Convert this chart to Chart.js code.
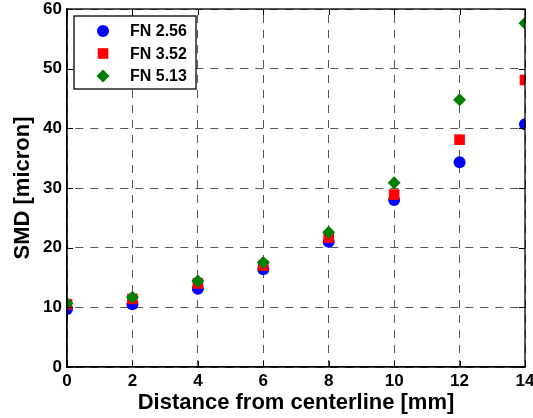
<!DOCTYPE html>
<html>
<head>
<meta charset="utf-8">
<script src="https://cdn.jsdelivr.net/npm/chart.js@4/dist/chart.umd.min.js"></script>
<style>
  html, body { margin: 0; padding: 0; background: #ffffff; }
  #wrap { width: 533px; height: 418px; }
</style>
</head>
<body>
<div id="wrap"><canvas id="c" width="533" height="418"></canvas></div>
<script>
// ---- data ----
const distances = [0, 2, 4, 6, 8, 10, 12, 14];
const fn256 = [9.7, 10.5, 13.1, 16.4, 21.0, 28.0, 34.3, 40.7];
const fn352 = [10.5, 11.4, 14.0, 17.0, 21.7, 28.9, 38.1, 48.1];
const fn513 = [10.7, 11.7, 14.4, 17.5, 22.6, 30.9, 44.8, 57.6];
const seriesNames = ['FN 2.56', 'FN 3.52', 'FN 5.13'];
const xTicks = [0, 2, 4, 6, 8, 10, 12, 14];
const yTicks = [0, 10, 20, 30, 40, 50, 60];
const xTitle = 'Distance from centerline [mm]';
const yTitle = 'SMD [micron]';

const FONT = "Arial, 'Liberation Sans', Helvetica, sans-serif";

function pts(xs, ys) { return xs.map((x, i) => ({ x: x, y: ys[i] })); }

const frame = {
  id: 'frame',
  afterDatasetsDraw(chart) {
    const { ctx, chartArea: a, scales } = chart;
    ctx.save();
    ctx.strokeStyle = '#000';
    ctx.lineWidth = 1;
    ctx.setLineDash([]);
    const tl = 6;
    ctx.beginPath();
    xTicks.forEach(v => {
      const px = Math.round(scales.x.getPixelForValue(v)) + 0.5;
      ctx.moveTo(px, a.bottom); ctx.lineTo(px, a.bottom - tl);
      ctx.moveTo(px, a.top); ctx.lineTo(px, a.top + tl);
    });
    yTicks.forEach(v => {
      const py = Math.round(scales.y.getPixelForValue(v)) + 0.5;
      ctx.moveTo(a.left, py); ctx.lineTo(a.left + tl, py);
      ctx.moveTo(a.right, py); ctx.lineTo(a.right - tl, py);
    });
    ctx.stroke();
    ctx.lineWidth = 1.3;
    ctx.strokeRect(a.left, a.top, a.right - a.left, a.bottom - a.top);
    ctx.restore();
  },
  afterDraw(chart) {
    const { ctx, chartArea: a } = chart;
    ctx.save();
    const bx = a.left + 7, by = a.top + 7, bw = 122, bh = 73;
    ctx.fillStyle = '#fff';
    ctx.fillRect(bx, by, bw, bh);
    ctx.strokeStyle = '#000';
    ctx.lineWidth = 1.3;
    ctx.strokeRect(bx, by, bw, bh);
    const rows = [22, 44.5, 67];
    chart.data.datasets.forEach((ds, i) => {
      const y = a.top + rows[i];
      const mx = a.left + 36;
      ctx.fillStyle = ds.backgroundColor;
      ctx.strokeStyle = ds.borderColor;
      Chart.helpers.drawPoint(ctx, { pointStyle: ds.pointStyle, radius: ds.pointRadius, borderWidth: 0, rotation: 0 }, mx, y);
      ctx.fillStyle = '#000';
      ctx.font = 'bold 16px ' + FONT;
      ctx.textBaseline = 'middle';
      ctx.textAlign = 'left';
      ctx.fillText(seriesNames[i], a.left + 63, y + 1);
    });
    ctx.restore();
  }
};

const colors = ['#0000ff', '#ff0000', '#007f00'];
const styles = ['circle', 'rect', 'rectRot'];
const radii = [6, 7.5, 6.5];
const values = [fn256, fn352, fn513];

new Chart(document.getElementById('c'), {
  type: 'scatter',
  data: {
    datasets: values.map((v, i) => ({
      label: seriesNames[i],
      data: pts(distances, v),
      pointStyle: styles[i],
      pointRadius: radii[i],
      pointHoverRadius: radii[i],
      backgroundColor: colors[i],
      borderColor: colors[i],
      borderWidth: 0,
      order: 3 - i
    }))
  },
  options: {
    responsive: false,
    animation: false,
    events: [],
    layout: { padding: { top: 9, right: 8, left: 0, bottom: 0 } },
    plugins: { legend: { display: false }, tooltip: { enabled: false } },
    scales: {
      x: {
        type: 'linear',
        min: 0, max: 14,
        afterFit(s) { s.height = 51; s.paddingLeft = 0; s.paddingRight = 0; },
        afterBuildTicks(s) { s.ticks = xTicks.map(v => ({ value: v })); },
        ticks: { color: '#000', padding: 4, font: { family: FONT, size: 17, weight: 'bold' }, maxRotation: 0 },
        grid: { color: '#555', lineWidth: 1, drawTicks: false },
        border: { display: true, color: '#000', width: 1.3, dash: [8, 7], dashOffset: 9 },
        title: { display: true, text: xTitle, color: '#000', font: { family: FONT, size: 22, weight: 'bold' }, padding: { top: 0, bottom: 2 } }
      },
      y: {
        type: 'linear',
        min: 0, max: 60,
        afterFit(s) { s.width = 67; s.paddingTop = 0; s.paddingBottom = 0; },
        afterBuildTicks(s) { s.ticks = yTicks.map(v => ({ value: v })); },
        ticks: { color: '#000', padding: 5, font: { family: FONT, size: 17, weight: 'bold' } },
        grid: { color: '#555', lineWidth: 1, drawTicks: false },
        border: { display: true, color: '#000', width: 1.3, dash: [8, 7], dashOffset: 7 },
        title: { display: true, text: yTitle, color: '#000', font: { family: FONT, size: 22, weight: 'bold' }, padding: { top: 10, bottom: 0 } }
      }
    }
  },
  plugins: [frame]
});
</script>
</body>
</html>
